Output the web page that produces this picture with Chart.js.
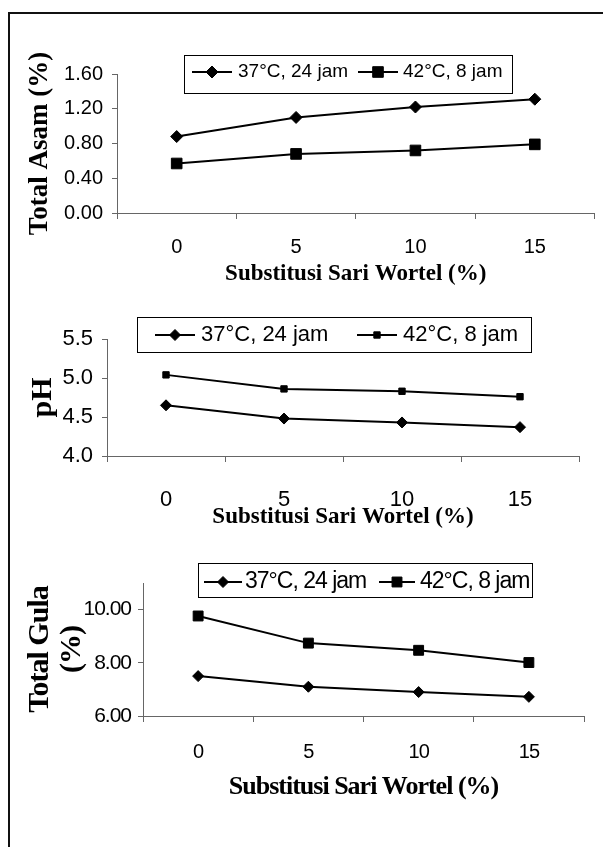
<!DOCTYPE html>
<html>
<head>
<meta charset="utf-8">
<title>Substitusi Sari Wortel</title>
<script src="https://cdn.jsdelivr.net/npm/chart.js"></script>
<style>
  body { margin: 0; background: #fff; }
  #frame { position: absolute; left: 8px; top: 12px; width: 600px; height: 840px;
           border-left: 2px solid #111; border-top: 2px solid #111; }
  .box { position: absolute; left: 0; width: 603px; }
</style>
</head>
<body>
<div id="frame"></div>
<div class="box" style="top:0;height:300px"><canvas id="asamChart"></canvas></div>
<div class="box" style="top:300px;height:245px"><canvas id="phChart"></canvas></div>
<div class="box" style="top:545px;height:302px"><canvas id="gulaChart"></canvas></div>
<script>
// substitusi sari wortel (%)
const categories = ['0', '5', '10', '15'];
const seriesNames = ['37°C, 24 jam', '42°C, 8 jam'];

// total asam (%)
const asam37 = [0.88, 1.10, 1.22, 1.31];
const asam42 = [0.57, 0.68, 0.72, 0.79];
// pH
const ph37 = [4.65, 4.48, 4.43, 4.37];
const ph42 = [5.04, 4.86, 4.83, 4.76];
// total gula (%)
const gula37 = [7.50, 7.10, 6.90, 6.72];
const gula42 = [9.76, 8.74, 8.47, 8.01];

const xTitle = 'Substitusi Sari Wortel (%)';
const sans = "'Liberation Sans', Arial, sans-serif";
const serif = "'Liberation Serif', 'Times New Roman', serif";
const axisColor = '#666';

Chart.defaults.color = '#000';
Chart.defaults.animation = false;

// excel style legend: box, line with marker, text
const boxLegend = {
  id: 'boxLegend',
  afterDraw(chart, args, opts) {
    const ctx = chart.ctx;
    const b = opts.box;
    ctx.save();
    ctx.strokeStyle = '#000';
    ctx.lineWidth = 1;
    ctx.strokeRect(b[0] + 0.5, b[1] + 0.5, b[2], b[3]);
    ctx.font = opts.font;
    ctx.textBaseline = 'middle';
    ctx.textAlign = 'left';
    ctx.fillStyle = '#000';
    chart.data.datasets.forEach(function(ds, i) {
      const it = opts.items[i];
      const y = opts.y;
      ctx.lineWidth = ds.borderWidth;
      ctx.beginPath();
      ctx.moveTo(it[0], y);
      ctx.lineTo(it[1], y);
      ctx.stroke();
      const cx = (it[0] + it[1]) / 2;
      const r = ds.pointRadius;
      ctx.lineWidth = 1;
      ctx.beginPath();
      if (ds.pointStyle === 'rectRot') {
        ctx.moveTo(cx - r, y);
        ctx.lineTo(cx, y - r);
        ctx.lineTo(cx + r, y);
        ctx.lineTo(cx, y + r);
        ctx.closePath();
      } else {
        const s = r * Math.SQRT1_2;
        ctx.rect(cx - s, y - s, 2 * s, 2 * s);
      }
      ctx.fill();
      ctx.stroke();
      ctx.fillText(ds.label, it[2], y);
    });
    ctx.restore();
  }
};

const tightText = {
  id: 'tightText',
  beforeDraw(chart, args, opts) {
    chart.ctx.letterSpacing = opts.spacing || '0px';
  }
};

function series(a, b, lw, rDiamond, rSquare) {
  return [
    { label: seriesNames[0], data: a, borderColor: '#000', backgroundColor: '#000',
      borderWidth: lw, pointStyle: 'rectRot', pointRadius: rDiamond, pointBorderWidth: 1, tension: 0 },
    { label: seriesNames[1], data: b, borderColor: '#000', backgroundColor: '#000',
      borderWidth: lw, pointStyle: 'rect', pointRadius: rSquare, pointBorderWidth: 1, tension: 0 }
  ];
}

function xScale(tickFont, tickPad, titleFont, height) {
  return {
    type: 'category',
    offset: true,
    grid: { offset: true, drawOnChartArea: false, tickLength: 6, color: axisColor },
    border: { color: axisColor, width: 1 },
    ticks: { font: { family: sans, size: tickFont }, padding: tickPad, maxRotation: 0 },
    title: { display: true, text: xTitle, padding: 0,
             font: { family: serif, size: titleFont, weight: 'bold', lineHeight: 1.2 } },
    afterFit: function(s) { s.height = height; }
  };
}

// Total Asam
new Chart(document.getElementById('asamChart'), {
  type: 'line',
  data: { labels: categories, datasets: series(asam37, asam42, 2, 6, 7.5) },
  options: {
    responsive: true,
    maintainAspectRatio: false,
    layout: { padding: { left: 24, top: 74, right: 1, bottom: 12 } },
    plugins: {
      legend: { display: false },
      tooltip: { enabled: false },
      boxLegend: { box: [184, 55, 328, 38], y: 72, font: '19px ' + sans,
                   items: [[192, 232, 238], [358, 398, 403]] }
    },
    scales: {
      x: xScale(20, 16, 23, 75),
      y: {
        min: 0, max: 1.6,
        grid: { drawOnChartArea: false, tickLength: 5, color: axisColor },
        border: { color: axisColor, width: 1 },
        ticks: { stepSize: 0.4, padding: 9, font: { family: sans, size: 20 },
                 callback: function(v) { return Number(v).toFixed(2); } },
        title: { display: true, text: 'Total Asam (%)', padding: 0,
                 font: { family: serif, size: 27, weight: 'bold', lineHeight: 1.2 } },
        afterFit: function(s) { s.width = 93; }
      }
    }
  },
  plugins: [boxLegend]
});

// pH
new Chart(document.getElementById('phChart'), {
  type: 'line',
  data: { labels: categories, datasets: series(ph37, ph42, 2, 5.5, 4.5) },
  options: {
    responsive: true,
    maintainAspectRatio: false,
    layout: { padding: { left: 25, top: 39, right: 24, bottom: 14 } },
    plugins: {
      legend: { display: false },
      tooltip: { enabled: false },
      boxLegend: { box: [137, 17, 394, 35], y: 35, font: '22px ' + sans,
                   items: [[155, 195, 201], [357, 397, 403]] }
    },
    scales: {
      x: xScale(22, 25, 23, 75),
      y: {
        min: 4, max: 5.5,
        grid: { drawOnChartArea: false, tickLength: 5, color: axisColor },
        border: { color: axisColor, width: 1 },
        ticks: { stepSize: 0.5, padding: 9, font: { family: sans, size: 22 },
                 callback: function(v) { return Number(v).toFixed(1); } },
        title: { display: true, text: 'pH', padding: 0,
                 font: { family: serif, size: 30, weight: 'bold', lineHeight: 1.2 } },
        afterFit: function(s) { s.width = 82; }
      }
    }
  },
  plugins: [boxLegend]
});

// Total Gula
new Chart(document.getElementById('gulaChart'), {
  type: 'line',
  data: { labels: categories, datasets: series(gula37, gula42, 2, 5.5, 7) },
  options: {
    responsive: true,
    maintainAspectRatio: false,
    layout: { padding: { left: 24, top: 38, right: 19, bottom: 44 } },
    plugins: {
      legend: { display: false },
      tooltip: { enabled: false },
      tightText: { spacing: '-1px' },
      boxLegend: { box: [198, 18, 334, 34], y: 37, font: '23px ' + sans,
                   items: [[204, 242, 245], [379, 415, 420]] }
    },
    scales: {
      x: xScale(20, 18, 26, 87),
      y: {
        min: 6, max: 11,
        grid: { drawOnChartArea: false, tickLength: 5, color: axisColor },
        border: { color: axisColor, width: 1 },
        ticks: { stepSize: 2, includeBounds: false, padding: 7, font: { family: sans, size: 21 },
                 callback: function(v) { return Number(v).toFixed(2); } },
        title: { display: true, text: ['Total Gula', '(%)'], padding: 0,
                 font: { family: serif, size: 30, weight: 'bold', lineHeight: 1.07 } },
        afterFit: function(s) { s.width = 119; }
      }
    }
  },
  plugins: [tightText, boxLegend]
});
</script>
</body>
</html>
